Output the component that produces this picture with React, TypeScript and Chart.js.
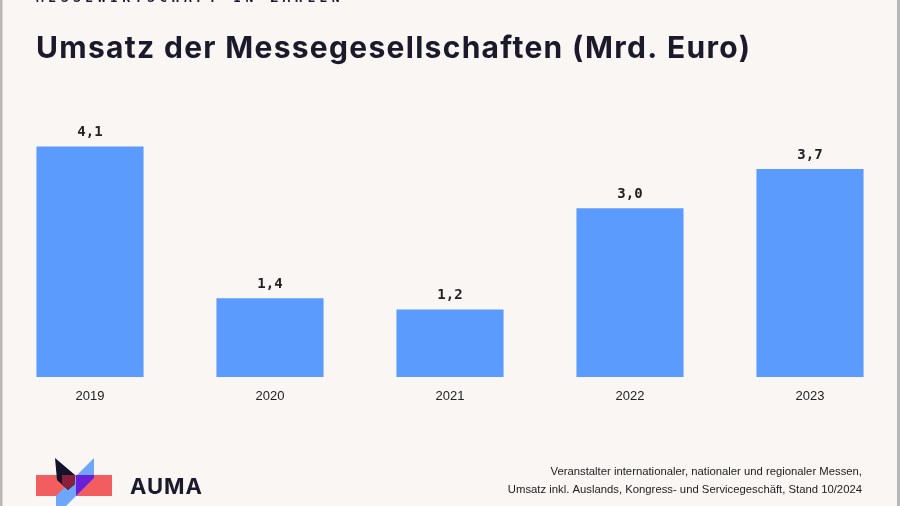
import React, { useEffect, useRef } from "react";
import { Chart, registerables } from "chart.js";

Chart.register(...registerables);

const years = ["2019", "2020", "2021", "2022", "2023"];
const revenue = [4.1, 1.4, 1.2, 3.0, 3.7];
const valueLabels = ["4,1", "1,4", "1,2", "3,0", "3,7"];
const kicker = "MESSEWIRTSCHAFT IN ZAHLEN";
const title = "Umsatz der Messegesellschaften (Mrd. Euro)";
const brand = "AUMA";
const noteLines = [
  "Veranstalter internationaler, nationaler und regionaler Messen,",
  "Umsatz inkl. Auslands, Kongress- und Servicegeschäft, Stand 10/2024",
];

const BG = "#f9f6f3";
const BAR = "#5b9bfd";
const INK = "#1b1a2b";

const decorPlugin = {
  id: "decor",
  beforeDraw(chart: any) {
    const { ctx, width, height } = chart;
    ctx.save();
    ctx.fillStyle = BG;
    ctx.fillRect(0, 0, width, height);
    ctx.fillStyle = "#b9b7b5";
    ctx.fillRect(0, 0, 2.5, height);
    ctx.fillRect(width - 3, 0, 3, height);
    ctx.restore();
  },
  afterDatasetsDraw(chart: any) {
    const { ctx } = chart;
    const meta = chart.getDatasetMeta(0);
    ctx.save();
    ctx.fillStyle = "#222";
    ctx.font = "bold 14px 'DejaVu Sans Mono', monospace";
    ctx.textAlign = "center";
    ctx.textBaseline = "middle";
    meta.data.forEach((bar: any, i: number) => {
      ctx.fillText(valueLabels[i], bar.x, bar.y - 14);
    });
    ctx.restore();
  },
  afterDraw(chart: any) {
    const { ctx } = chart;
    ctx.save();
    // kicker (clipped at the top)
    ctx.fillStyle = INK;
    ctx.font = "bold 13px 'DejaVu Sans Mono', monospace";
    ctx.textAlign = "left";
    ctx.textBaseline = "alphabetic";
    (ctx as any).letterSpacing = "4.5px";
    ctx.fillText(kicker, 36, 1.5);
    // title
    (ctx as any).letterSpacing = "1.3px";
    ctx.font = "bold 30px Inter, 'Noto Sans', sans-serif";
    ctx.fillText(title, 36, 58);
    (ctx as any).letterSpacing = "0px";
    // logo
    ctx.fillStyle = "#f25d5f";
    ctx.fillRect(36, 475, 76, 21);
    ctx.fillStyle = "#6ea6fb";
    ctx.beginPath();
    ctx.moveTo(94, 458);
    ctx.lineTo(94, 478);
    ctx.lineTo(66, 506);
    ctx.lineTo(56, 506);
    ctx.lineTo(56, 496);
    ctx.closePath();
    ctx.fill();
    ctx.fillStyle = "#6a1fd6";
    ctx.beginPath();
    ctx.moveTo(94, 475);
    ctx.lineTo(94, 478);
    ctx.lineTo(76, 496);
    ctx.lineTo(76, 475);
    ctx.closePath();
    ctx.fill();
    ctx.fillStyle = "#14112b";
    ctx.beginPath();
    ctx.moveTo(55, 458);
    ctx.lineTo(75, 475);
    ctx.lineTo(75, 484);
    ctx.lineTo(68, 490);
    ctx.lineTo(57, 480);
    ctx.closePath();
    ctx.fill();
    ctx.fillStyle = "#8a1f3a";
    ctx.beginPath();
    ctx.moveTo(62, 475);
    ctx.lineTo(75, 475);
    ctx.lineTo(75, 484);
    ctx.lineTo(68, 490);
    ctx.lineTo(62, 484);
    ctx.closePath();
    ctx.fill();
    // brand
    ctx.fillStyle = INK;
    (ctx as any).letterSpacing = "1px";
    ctx.font = "bold 22px Inter, 'Noto Sans', sans-serif";
    ctx.fillText(brand, 130, 494);
    (ctx as any).letterSpacing = "0px";
    // note
    ctx.font = "11.3px 'Liberation Sans', Arial, sans-serif";
    ctx.textAlign = "right";
    ctx.fillStyle = "#222";
    ctx.fillText(noteLines[0], 862, 475);
    ctx.fillText(noteLines[1], 862, 493);
    ctx.restore();
  },
};

export default function App() {
  const ref = useRef<HTMLCanvasElement>(null);
  useEffect(() => {
    if (!ref.current) return;
    const chart = new Chart(ref.current, {
      type: "bar",
      data: {
        labels: years,
        datasets: [
          {
            data: revenue,
            backgroundColor: BAR,
            borderWidth: 0,
            barPercentage: 0.595,
            categoryPercentage: 1,
          },
        ],
      },
      options: {
        animation: false,
        responsive: false,
        maintainAspectRatio: false,
        layout: { padding: { top: 124, bottom: 89.4, left: 0, right: 0 } },
        plugins: {
          legend: { display: false },
          title: { display: false },
          tooltip: { enabled: false },
        },
        scales: {
          x: {
            grid: { display: false, drawTicks: false },
            border: { display: false },
            ticks: {
              color: "#222",
              padding: 12,
              font: { size: 13, family: "'Liberation Sans', Arial, sans-serif" },
            },
          },
          y: {
            display: false,
            min: 0,
            max: 4.5,
          },
        },
      },
      plugins: [decorPlugin],
    });
    return () => chart.destroy();
  }, []);
  return (
    <div style={{ position: "fixed", left: 0, top: 0, width: 900, height: 506 }}>
      <canvas ref={ref} width={900} height={506} style={{ display: "block" }} />
    </div>
  );
}
